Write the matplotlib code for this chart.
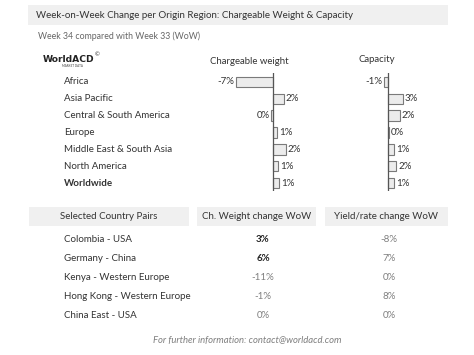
import matplotlib
matplotlib.use('Agg')
import matplotlib.pyplot as plt
from matplotlib.patches import Rectangle

plt.rcParams['font.family'] = ['Lato', 'DejaVu Sans']

# region data
regions = ['Africa', 'Asia Pacific', 'Central & South America', 'Europe',
           'Middle East & South Asia', 'North America', 'Worldwide']
weight_vals = [-7.0, 2.1, -0.3, 0.8, 2.4, 1.0, 1.1]
weight_labels = ['-7%', '2%', '0%', '1%', '2%', '1%', '1%']
capacity_vals = [-0.8, 2.8, 2.2, 0.2, 1.2, 1.6, 1.1]
capacity_labels = ['-1%', '3%', '2%', '0%', '1%', '2%', '1%']

# country pairs table
pairs = ['Colombia - USA', 'Germany - China', 'Kenya - Western Europe',
         'Hong Kong - Western Europe', 'China East - USA']
pair_weight = ['3%', '6%', '-11%', '-1%', '0%']
pair_yield = ['-8%', '7%', '0%', '8%', '0%']
table_headers = ['Selected Country Pairs', 'Ch. Weight change WoW', 'Yield/rate change WoW']

W, H = 474, 355
fig = plt.figure(figsize=(W / 100, H / 100), dpi=100)
bg = fig.add_axes([0, 0, 1, 1])
bg.set_xlim(0, W)
bg.set_ylim(H, 0)
bg.axis('off')

dark = '#333333'
grey = '#7f7f7f'
band = '#f0f0f0'

# title band
bg.add_patch(Rectangle((28, 5), 420, 20, color=band, lw=0))
bg.text(36, 15, 'Week-on-Week Change per Origin Region: Chargeable Weight & Capacity',
        fontsize=7.0, color=dark, va='center')
bg.text(38, 36, 'Week 34 compared with Week 33 (WoW)', fontsize=6.3, color='#666666', va='center')

# logo
bg.text(43, 59, 'WorldACD', fontsize=6.6, fontweight='bold', color='#222222', va='center',
        family=['DejaVu Sans'])
bg.text(94.5, 55, '©', fontsize=4.2, color='#222222', va='center')
bg.text(62, 66, 'MARKET DATA', fontsize=2.2, color='#444444', va='center')

bg.text(249, 61, 'Chargeable weight', fontsize=6.9, color=dark, ha='center', va='center')
bg.text(377, 60, 'Capacity', fontsize=6.9, color=dark, ha='center', va='center')

row_y0, row_dy = 82, 16.85
for i, r in enumerate(regions):
    bg.text(64, row_y0 + i * row_dy, r, fontsize=7, color=dark, va='center',
            fontweight='bold' if r == 'Worldwide' else 'normal')

px_per_pct = 5.3
top_px, bot_px = 73, 191


def bar_panel(zero_px, left_px, right_px, vals, labels):
    ax = fig.add_axes([left_px / W, 1 - bot_px / H, (right_px - left_px) / W, (bot_px - top_px) / H])
    ax.set_xlim(-(zero_px - left_px) / px_per_pct, (right_px - zero_px) / px_per_pct)
    ax.set_ylim((bot_px - row_y0) / row_dy, -(row_y0 - top_px) / row_dy)
    ax.axis('off')
    ypos = list(range(len(vals)))
    ax.barh(ypos, vals, height=0.62, color='#ececec', edgecolor='#7a7a7a', linewidth=0.8)
    ax.axvline(0, color='#555555', lw=0.9)
    for y, v, lab in zip(ypos, vals, labels):
        if v < 0:
            ax.text(v - 0.35, y, lab, ha='right', va='center', fontsize=7, color=dark)
        else:
            ax.text(max(v, 0.15) + 0.35, y, lab, ha='left', va='center', fontsize=7, color=dark)
    return ax


bar_panel(273, 215, 330, weight_vals, weight_labels)
bar_panel(388, 345, 445, capacity_vals, capacity_labels)

# table headers
boxes = [(29, 189), (197, 316), (325, 448)]
for (x0, x1), h in zip(boxes, table_headers):
    bg.add_patch(Rectangle((x0, 207), x1 - x0, 19, color=band, lw=0))
    bg.text((x0 + x1) / 2, 216.5, h, fontsize=7, color=dark, ha='center', va='center')

pair_y0, pair_dy = 240, 18.9
for i, (p, w, y) in enumerate(zip(pairs, pair_weight, pair_yield)):
    yy = pair_y0 + i * pair_dy
    bg.text(64, yy, p, fontsize=7, color=dark, va='center')
    strong = not w.startswith('-') and w != '0%'
    bg.text(263, yy, w, fontsize=7, ha='center', va='center',
            color='#222222' if strong else grey, fontweight='bold' if strong else 'normal')
    bg.text(389, yy, y, fontsize=7, ha='center', va='center', color=grey)

bg.text(247, 341, 'For further information: contact@worldacd.com', fontsize=6.8,
        style='italic', color=grey, ha='center', va='center')

fig.savefig('out.png', dpi=100)
